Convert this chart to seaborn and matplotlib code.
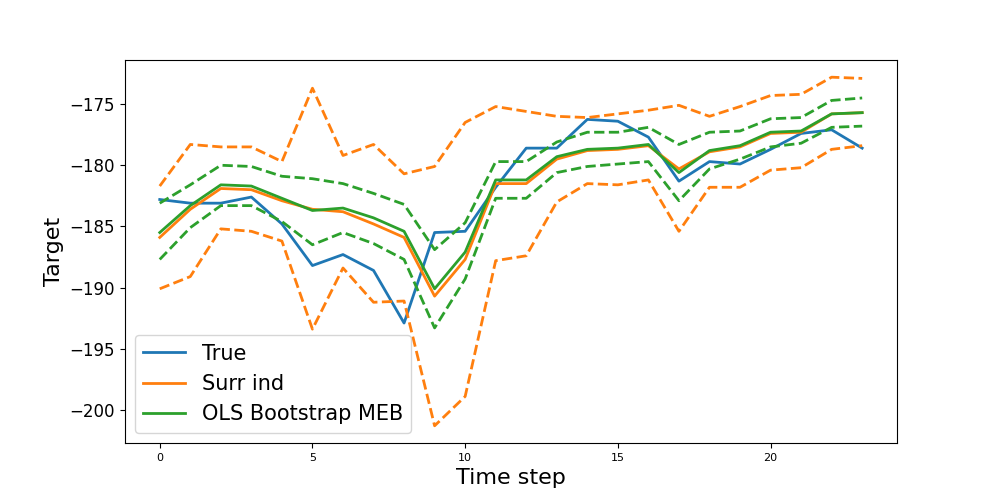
import matplotlib.pyplot as plt
import seaborn as sns
import pandas as pd

# 시간 단계
steps = list(range(24))

true_vals = [-182.8, -183.1, -183.1, -182.6, -184.8, -188.2, -187.3, -188.6, -192.9, -185.5,
             -185.4, -181.8, -178.6, -178.6, -176.25, -176.4, -177.7, -181.3, -179.7, -179.9,
             -178.7, -177.4, -177.1, -178.6]

surr_mean = [-185.9, -183.6, -181.9, -182.0, -182.9, -183.6, -183.8, -184.8, -185.9, -190.7,
             -187.7, -181.5, -181.5, -179.5, -178.8, -178.7, -178.4, -180.3, -178.9, -178.5,
             -177.4, -177.3, -175.8, -175.7]
surr_upper = [-181.7, -178.3, -178.5, -178.5, -179.7, -173.7, -179.2, -178.3, -180.7, -180.1,
              -176.5, -175.2, -175.6, -176.0, -176.1, -175.8, -175.5, -175.1, -176.0, -175.2,
              -174.3, -174.2, -172.8, -172.9]
surr_lower = [-190.1, -189.1, -185.2, -185.4, -186.2, -193.4, -188.4, -191.2, -191.1, -201.3,
              -198.9, -187.8, -187.4, -183.0, -181.5, -181.6, -181.2, -185.4, -181.8, -181.8,
              -180.4, -180.2, -178.7, -178.4]

ols_mean = [-185.5, -183.3, -181.6, -181.7, -182.7, -183.7, -183.5, -184.3, -185.4, -190.1,
            -187.1, -181.2, -181.2, -179.3, -178.7, -178.6, -178.3, -180.6, -178.8, -178.4,
            -177.3, -177.2, -175.8, -175.7]
ols_upper = [-183.1, -181.6, -180.0, -180.1, -180.9, -181.1, -181.5, -182.3, -183.2, -186.9,
             -184.7, -179.7, -179.7, -178.1, -177.3, -177.3, -176.9, -178.3, -177.3, -177.2,
             -176.2, -176.1, -174.7, -174.5]
ols_lower = [-187.7, -185.1, -183.3, -183.3, -184.6, -186.5, -185.5, -186.4, -187.7, -193.3,
             -189.3, -182.7, -182.7, -180.6, -180.1, -179.9, -179.7, -182.9, -180.3, -179.5,
             -178.5, -178.2, -176.9, -176.8]

df = pd.DataFrame({'step': steps, 'true': true_vals,
                   'surr': surr_mean, 'surr_up': surr_upper, 'surr_lo': surr_lower,
                   'ols': ols_mean, 'ols_up': ols_upper, 'ols_lo': ols_lower})

fig, ax = plt.subplots(figsize=(9.97, 4.98), dpi=100)

sns.lineplot(data=df, x='step', y='true', color='C0', lw=2, label='True', ax=ax)
sns.lineplot(data=df, x='step', y='surr', color='C1', lw=2, label='Surr ind', ax=ax)
sns.lineplot(data=df, x='step', y='surr_up', color='C1', lw=2, ls='--', ax=ax)
sns.lineplot(data=df, x='step', y='surr_lo', color='C1', lw=2, ls='--', ax=ax)
sns.lineplot(data=df, x='step', y='ols', color='C2', lw=2, label='OLS Bootstrap MEB', ax=ax)
sns.lineplot(data=df, x='step', y='ols_up', color='C2', lw=2, ls='--', ax=ax)
sns.lineplot(data=df, x='step', y='ols_lo', color='C2', lw=2, ls='--', ax=ax)

ax.set_xlabel('Time step', fontsize=16)
ax.set_ylabel('Target', fontsize=16)
ax.tick_params(axis='x', labelsize=8)
ax.tick_params(axis='y', labelsize=12)
ax.legend(loc='lower left', fontsize=15)

plt.savefig('out.png', dpi=100)
